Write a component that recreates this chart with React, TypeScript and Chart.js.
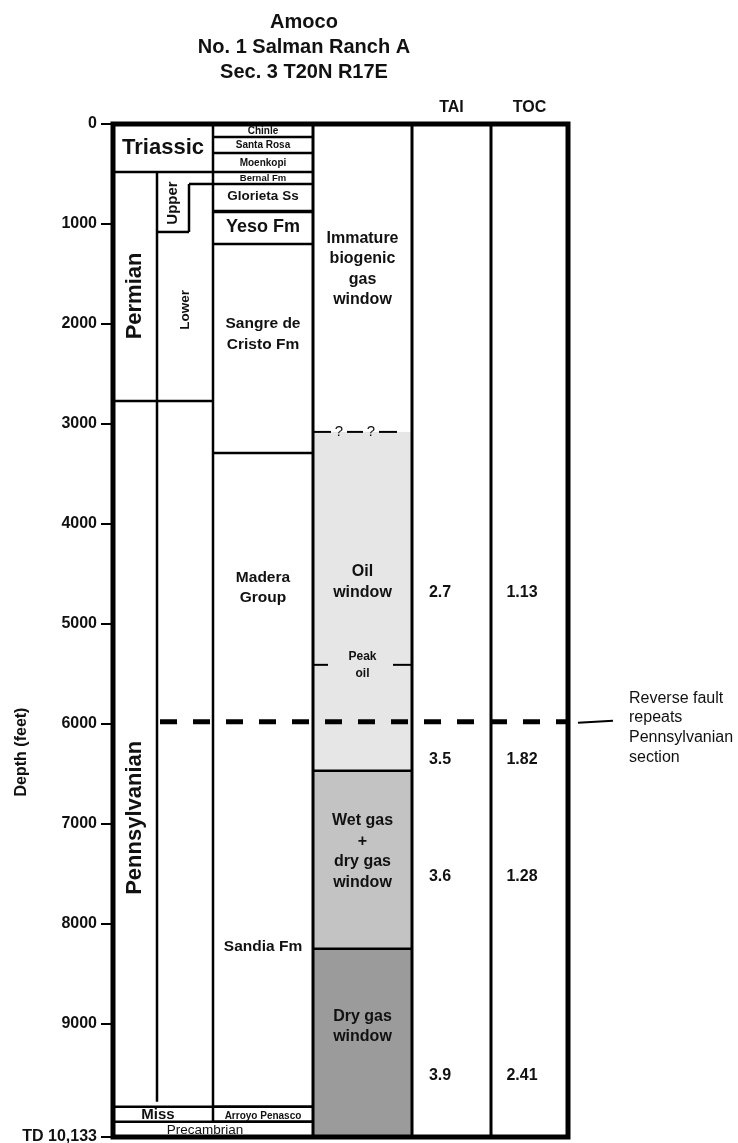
import { useEffect, useRef } from 'react';
import { Chart, registerables } from 'chart.js';

Chart.register(...registerables);

// ---------------- data ----------------
const TITLE_LINES = ['Amoco', 'No. 1 Salman Ranch A', 'Sec. 3 T20N R17E'];
const AXIS_TITLE = 'Depth (feet)';
const TOTAL_DEPTH = 10133;
const DEPTH_TICKS = [0, 1000, 2000, 3000, 4000, 5000, 6000, 7000, 8000, 9000, 10133];

const SYSTEM_NAMES = ['Triassic', 'Permian', 'Pennsylvanian', 'Miss', 'Precambrian'];
const SYSTEM_TOPS = [0, 480, 2770, 9830, 9980];
const SYSTEM_BASES = [480, 2770, 9830, 9980, 10133];

const SERIES_NAMES = ['Upper', 'Lower'];
const SERIES_TOPS = [600, 1080];
const SERIES_BASES = [1080, 2770];

const FORMATION_NAMES = [
  'Chinle', 'Santa Rosa', 'Moenkopi', 'Bernal Fm', 'Glorieta Ss', 'Yeso Fm',
  'Sangre de Cristo Fm', 'Madera Group', 'Sandia Fm', 'Arroyo Penasco',
];
const FORMATION_TOPS = [0, 130, 290, 480, 600, 875, 1200, 3290, 5980, 9830];
const FORMATION_BASES = [130, 290, 480, 600, 875, 1200, 3290, 5980, 9830, 9980];

const MATURITY_NAMES = ['Immature biogenic gas window', 'Oil window', 'Wet gas + dry gas window', 'Dry gas window'];
const MATURITY_TOPS = [0, 3080, 6470, 8250];
const MATURITY_BASES = [3080, 6470, 8250, 10133];
const PEAK_OIL_LABEL = 'Peak oil';
const PEAK_OIL_DEPTH = 5410;
const FAULT_DEPTH = 5980;
const FAULT_NOTE = ['Reverse fault', 'repeats', 'Pennsylvanian', 'section'];

const COLUMN_HEADERS = ['TAI', 'TOC'];
const SAMPLE_DEPTHS = [4690, 6360, 7530, 9520];
const TAI_VALUES = [2.7, 3.5, 3.6, 3.9];
const TOC_VALUES = [1.13, 1.82, 1.28, 2.41];

// ---------------- layout / style ----------------
const FONT = '"Liberation Sans", Arial, Helvetica, sans-serif';
const COL = { left: 113, series: 157, step: 189, system: 213, formation: 313, maturity: 412, tai: 491, right: 568 };
const SERIES_LINE_END = 9780;

const SYSTEM_STYLE = [
  { x: 163, depth: 240, size: 22, bold: true, rotate: false },
  { x: 135, depth: 1720, size: 22, bold: true, rotate: true },
  { x: 135, depth: 6940, size: 22, bold: true, rotate: true },
  { x: 158, depth: 9910, size: 15, bold: true, rotate: false },
  { x: 205, depth: 10070, size: 13.5, bold: false, rotate: false },
];
const SERIES_STYLE = [
  { x: 173, depth: 790, size: 15 },
  { x: 185, depth: 1860, size: 13.5 },
];
const FORMATION_STYLE = [
  { lines: ['Chinle'], depth: 70, size: 10 },
  { lines: ['Santa Rosa'], depth: 210, size: 10 },
  { lines: ['Moenkopi'], depth: 390, size: 10 },
  { lines: ['Bernal Fm'], depth: 540, size: 9.5 },
  { lines: ['Glorieta Ss'], depth: 725, size: 13.5 },
  { lines: ['Yeso Fm'], depth: 1030, size: 18 },
  { lines: ['Sangre de', 'Cristo Fm'], depth: 2105, size: 15.5 },
  { lines: ['Madera', 'Group'], depth: 4640, size: 15.5 },
  { lines: ['Sandia Fm'], depth: 8230, size: 15.5 },
  { lines: ['Arroyo Penasco'], depth: 9930, size: 10 },
];
const MATURITY_STYLE = [
  { lines: ['Immature', 'biogenic', 'gas', 'window'], depth: 1450, fill: '#ffffff' },
  { lines: ['Oil', 'window'], depth: 4580, fill: '#e6e6e6' },
  { lines: ['Wet gas', '+', 'dry gas', 'window'], depth: 7280, fill: '#c3c3c3' },
  { lines: ['Dry gas', 'window'], depth: 9030, fill: '#9b9b9b' },
];
const TAI_X = 440;
const TOC_X = 522;

function font(size: number, bold = true) {
  return `${bold ? 'bold ' : ''}${size}px ${FONT}`;
}

function drawLines(ctx: CanvasRenderingContext2D, lines: string[], x: number, y: number, size: number, lh: number, bold = true, rotate = false, align: CanvasTextAlign = 'center') {
  ctx.save();
  ctx.translate(x, y);
  if (rotate) ctx.rotate(-Math.PI / 2);
  ctx.font = font(size, bold);
  ctx.textAlign = align;
  ctx.textBaseline = 'middle';
  ctx.fillStyle = '#111';
  const start = -((lines.length - 1) * lh) / 2;
  lines.forEach((l, i) => ctx.fillText(l, 0, start + i * lh));
  ctx.restore();
}

const columnPlugin = {
  id: 'stratColumn',
  beforeDatasetsDraw(chart: any) {
    const { ctx } = chart;
    const xs = chart.scales.x;
    const ys = chart.scales.y;
    const X = (v: number) => xs.getPixelForValue(v);
    const Y = (d: number) => ys.getPixelForValue(d);
    ctx.save();

    // maturity fills
    MATURITY_TOPS.forEach((top, i) => {
      ctx.fillStyle = MATURITY_STYLE[i].fill;
      ctx.fillRect(X(COL.formation), Y(top), X(COL.maturity) - X(COL.formation), Y(MATURITY_BASES[i]) - Y(top));
    });

    ctx.strokeStyle = '#000';
    ctx.lineCap = 'butt';
    const seg = (x1: number, d1: number, x2: number, d2: number, w = 2.5) => {
      ctx.lineWidth = w;
      ctx.beginPath();
      ctx.moveTo(X(x1), Y(d1));
      ctx.lineTo(X(x2), Y(d2));
      ctx.stroke();
    };

    // system boundaries
    SYSTEM_BASES.slice(0, -1).forEach((b, i) => {
      const right = SYSTEM_NAMES[i + 1] === 'Precambrian' || SYSTEM_NAMES[i] === 'Pennsylvanian' ? COL.formation : COL.system;
      seg(COL.left, b, right, b);
    });
    // series boundaries
    seg(COL.series, SYSTEM_BASES[0], COL.series, SERIES_LINE_END);
    seg(COL.series, SERIES_BASES[0], COL.step, SERIES_BASES[0]);
    seg(COL.step, SERIES_BASES[0], COL.step, SERIES_TOPS[0]);
    seg(COL.step, SERIES_TOPS[0], COL.system, SERIES_TOPS[0]);

    // formation boundaries
    FORMATION_BASES.forEach((b, i) => {
      if (b === FAULT_DEPTH) return;
      seg(COL.system, b, COL.formation, b, FORMATION_NAMES[i] === 'Glorieta Ss' ? 3.5 : 2.5);
    });

    // vertical dividers
    seg(COL.system, 0, COL.system, SYSTEM_TOPS[SYSTEM_TOPS.length - 1], 2.5);
    seg(COL.formation, 0, COL.formation, TOTAL_DEPTH, 3);
    seg(COL.maturity, 0, COL.maturity, TOTAL_DEPTH, 3);
    seg(COL.tai, 0, COL.tai, TOTAL_DEPTH, 3);

    // maturity boundaries
    MATURITY_TOPS.forEach((t, i) => {
      if (i === 0) return;
      if (i === 1) {
        seg(COL.formation, t, 331, t, 2);
        seg(347, t, 363, t, 2);
        seg(379, t, 397, t, 2);
        ctx.font = font(15, false);
        ctx.fillStyle = '#111';
        ctx.textAlign = 'center';
        ctx.textBaseline = 'alphabetic';
        ctx.fillText('?', X(339), Y(t) + 4);
        ctx.fillText('?', X(371), Y(t) + 4);
      } else {
        seg(COL.formation, t, COL.maturity, t, 2.5);
      }
    });
    // peak oil ticks
    seg(COL.formation, PEAK_OIL_DEPTH, 328, PEAK_OIL_DEPTH, 2);
    seg(393, PEAK_OIL_DEPTH, COL.maturity, PEAK_OIL_DEPTH, 2);

    // outer frame
    ctx.lineWidth = 5;
    ctx.strokeRect(X(COL.left), Y(0), X(COL.right) - X(COL.left), Y(TOTAL_DEPTH) - Y(0));

    // texts
    SYSTEM_NAMES.forEach((n, i) => {
      const s = SYSTEM_STYLE[i];
      drawLines(ctx, [n], X(s.x), Y(s.depth), s.size, 0, s.bold, s.rotate);
    });
    SERIES_NAMES.forEach((n, i) => {
      const s = SERIES_STYLE[i];
      drawLines(ctx, [n], X(s.x), Y(s.depth), s.size, 0, true, true);
    });
    FORMATION_NAMES.forEach((n, i) => {
      const s = FORMATION_STYLE[i];
      drawLines(ctx, s.lines, X((COL.system + COL.formation) / 2), Y(s.depth), s.size, s.size * 1.33, true);
    });
    MATURITY_NAMES.forEach((n, i) => {
      const s = MATURITY_STYLE[i];
      drawLines(ctx, s.lines, X((COL.formation + COL.maturity) / 2), Y(s.depth), 16, 20.5, true);
    });
    drawLines(ctx, PEAK_OIL_LABEL.split(' '), X((COL.formation + COL.maturity) / 2), Y(PEAK_OIL_DEPTH), 12, 17, true);

    // headers
    drawLines(ctx, [COLUMN_HEADERS[0]], X((COL.maturity + COL.tai) / 2), 108, 16, 0, true);
    drawLines(ctx, [COLUMN_HEADERS[1]], X((COL.tai + COL.right) / 2), 108, 16, 0, true);

    // title
    drawLines(ctx, TITLE_LINES, 304, 47, 20, 25, true);

    // axis title
    drawLines(ctx, [AXIS_TITLE], 22, 752, 16, 0, true, true);

    // fault note
    drawLines(ctx, FAULT_NOTE, 629, Y(FAULT_DEPTH) + 6, 16, 19.7, false, false, 'left');

    ctx.restore();
  },
  afterDatasetsDraw(chart: any) {
    const { ctx } = chart;
    const taiMeta = chart.getDatasetMeta(0);
    const tocMeta = chart.getDatasetMeta(1);
    TAI_VALUES.forEach((v, i) => {
      const p = taiMeta.data[i];
      drawLines(ctx, [v.toFixed(1)], p.x, p.y, 16, 0, true);
    });
    TOC_VALUES.forEach((v, i) => {
      const p = tocMeta.data[i];
      drawLines(ctx, [v.toFixed(2)], p.x, p.y, 16, 0, true);
    });
  },
};

export default function App() {
  const ref = useRef<HTMLCanvasElement | null>(null);

  useEffect(() => {
    if (!ref.current) return;
    const chart = new Chart(ref.current, {
      type: 'scatter',
      data: {
        datasets: [
          { label: 'TAI', data: SAMPLE_DEPTHS.map((d) => ({ x: TAI_X, y: d })), pointRadius: 0, showLine: false },
          { label: 'TOC', data: SAMPLE_DEPTHS.map((d) => ({ x: TOC_X, y: d })), pointRadius: 0, showLine: false },
          {
            label: 'Fault',
            data: [{ x: 160, y: FAULT_DEPTH }, { x: COL.right, y: FAULT_DEPTH }],
            showLine: true, pointRadius: 0, borderColor: '#000', borderWidth: 5,
            borderDash: [17, 16], borderCapStyle: 'butt', clip: false,
          },
          {
            label: 'Fault note',
            data: [{ x: 578, y: FAULT_DEPTH + 10 }, { x: 613, y: FAULT_DEPTH - 10 }],
            showLine: true, pointRadius: 0, borderColor: '#000', borderWidth: 2, clip: false,
          },
        ],
      },
      options: {
        responsive: true,
        maintainAspectRatio: false,
        animation: false,
        events: [],
        layout: { padding: { left: 0, right: 170, top: 124, bottom: 6 } },
        plugins: { legend: { display: false }, tooltip: { enabled: false }, title: { display: false } },
        scales: {
          x: { type: 'linear', min: COL.left, max: COL.right, display: false },
          y: {
            type: 'linear',
            reverse: true,
            min: 0,
            max: TOTAL_DEPTH,
            afterBuildTicks: (scale: any) => {
              scale.ticks = DEPTH_TICKS.map((v) => ({ value: v }));
            },
            afterFit: (scale: any) => {
              scale.width = COL.left;
              scale.paddingTop = 0;
              scale.paddingBottom = 0;
            },
            ticks: {
              color: '#111',
              padding: 4,
              font: { family: FONT, size: 16, weight: 'bold' },
              callback: (v: any) => (v === TOTAL_DEPTH ? `TD ${Number(v).toLocaleString('en-US')}` : String(v)),
            },
            grid: { drawOnChartArea: false, drawTicks: true, tickLength: 12, color: '#000', lineWidth: 2 },
            border: { display: false },
          },
        },
      },
      plugins: [columnPlugin],
    } as any);
    return () => chart.destroy();
  }, []);

  return (
    <div style={{ position: 'absolute', left: 0, top: 0, width: 738, height: 1143, background: '#fff' }}>
      <canvas ref={ref} />
    </div>
  );
}
